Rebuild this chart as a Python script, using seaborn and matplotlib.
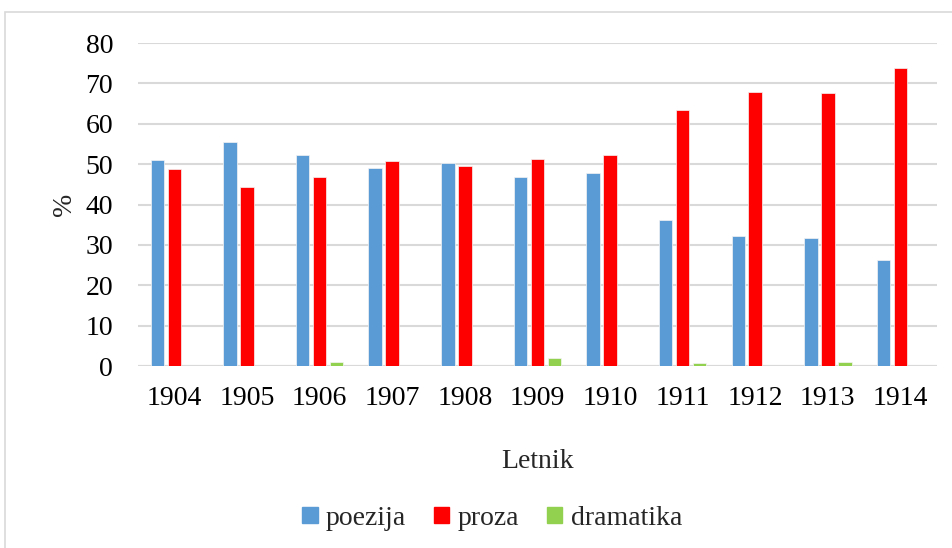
import matplotlib

matplotlib.use("Agg")
import matplotlib.pyplot as plt
import pandas as pd
import seaborn as sns
from matplotlib.patches import Rectangle

years = ["1904", "1905", "1906", "1907", "1908", "1909", "1910", "1911", "1912", "1913", "1914"]
poezija = [51.1, 55.6, 52.3, 49.1, 50.4, 46.9, 47.7, 36.1, 32.3, 31.6, 26.3]
proza = [48.9, 44.4, 46.9, 50.9, 49.6, 51.4, 52.3, 63.3, 67.8, 67.7, 73.7]
dramatika = [0.0, 0.0, 0.9, 0.0, 0.0, 1.9, 0.0, 0.7, 0.0, 0.9, 0.0]
series = ["poezija", "proza", "dramatika"]
colors = ["#5B9BD5", "#FF0000", "#92D050"]

df = pd.DataFrame({"Letnik": years, "poezija": poezija, "proza": proza, "dramatika": dramatika})
long = df.melt(id_vars="Letnik", var_name="vrsta", value_name="delez")

sns.set_theme(style="white")
plt.rcParams["font.family"] = ["Liberation Serif", "DejaVu Serif"]

fig = plt.figure(figsize=(9.52, 5.48), dpi=100)
ax = fig.add_axes([0.145, 0.332, 0.839, 0.5895])

sns.barplot(
    data=long, x="Letnik", y="delez", hue="vrsta", hue_order=series,
    palette=colors, width=0.7, gap=0.2, saturation=1, ax=ax,
    edgecolor="#f4f4f4", linewidth=0.5, legend=False,
)

ax.set_ylim(0, 80)
ax.set_yticks(range(0, 81, 10))
ax.yaxis.grid(True, color="#d9d9d9", linewidth=1.5)
ax.set_axisbelow(True)
for s in ax.spines.values():
    s.set_visible(False)
ax.axhline(0, color="#d9d9d9", linewidth=1.5, zorder=0)
ax.tick_params(axis="both", length=0, labelsize=20, colors="black")
ax.tick_params(axis="y", pad=18)
ax.tick_params(axis="x", pad=14)
ax.set_xlabel("Letnik", fontsize=20, labelpad=28)
ax.set_ylabel("%", fontsize=20, labelpad=6)

handles = [Rectangle((0, 0), 1, 1, color=c) for c in colors]
fig.legend(
    handles, series, loc="center", bbox_to_anchor=(0.517, 0.054), ncol=3,
    frameon=False, fontsize=20, handlelength=0.55, handleheight=0.55,
    handletextpad=0.3, columnspacing=1.0,
)

fig.patches.append(Rectangle((5 / 952, -0.05), 1.1, 1 - 12 / 548 + 0.05,
                             transform=fig.transFigure, fill=False,
                             edgecolor="#d9d9d9", linewidth=1.2))

fig.savefig("out.png", dpi=100)
